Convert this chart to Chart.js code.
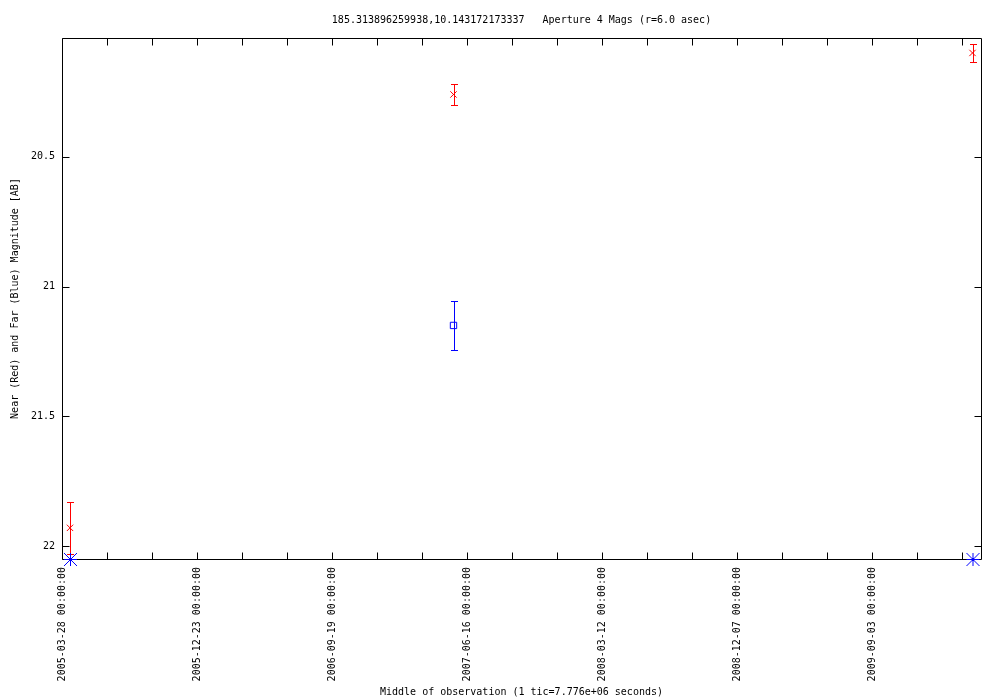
<!DOCTYPE html>
<html><head><meta charset="utf-8">
<script src="https://cdn.jsdelivr.net/npm/chart.js@4/dist/chart.umd.min.js"></script>
<style>html,body{margin:0;padding:0;background:#fff}#wrap{width:1000px;height:700px}</style>
</head><body><div id="wrap"><canvas id="c" width="1000" height="700"></canvas></div>
<script>
const chartTitle = '185.313896259938,10.143172173337   Aperture 4 Mags (r=6.0 asec)';
const xAxisTitle = 'Middle of observation (1 tic=7.776e+06 seconds)';
const yAxisTitle = 'Near (Red) and Far (Blue) Magnitude [AB]';
const obsDates = ['2005-04-13', '2007-05-20', '2010-03-23'];
const nearMag = [21.93, 20.26, 20.10];
const nearErr = [0.10, 0.04, 0.035];
const farMag = [22.05, 21.15, 22.05];
const farErr = [null, 0.095, null];
const farStyle = ['star', 'rect', 'star'];
const xTickLabels = ['2005-03-28','2005-12-23','2006-09-19','2007-06-16','2008-03-12','2008-12-07','2009-09-03'];
const xRange = ['2005-03-28', '2010-04-09'];
const yTicks = [20.5, 21, 21.5, 22];
const yRange = [20.0424, 22.05];
const minorTicDays = 90;

const DAY = 86400000;
const toMs = s => Date.parse(s + 'T00:00:00Z');
const fmtDate = v => new Date(v).toISOString().slice(0, 10) + ' 00:00:00';
const FONT = {family: '"DejaVu Sans Mono", "Liberation Mono", monospace', size: 10, weight: 'normal'};
Chart.defaults.color = '#000';

const xMin = toMs(xRange[0]), xMax = toMs(xRange[1]);
const xLabelVals = xTickLabels.map(toMs);

// gnuplot-like '*' marker (plus + square-cornered cross), crisp pixels
function starImage(color) {
  const c = document.createElement('canvas');
  c.width = 16; c.height = 16;
  const g = c.getContext('2d');
  g.strokeStyle = color; g.lineWidth = 1;
  g.beginPath();
  g.moveTo(2, 8.5); g.lineTo(15, 8.5);
  g.moveTo(8.5, 2); g.lineTo(8.5, 15);
  g.moveTo(2, 2); g.lineTo(15, 15);
  g.moveTo(15, 2); g.lineTo(2, 15);
  g.stroke();
  return c;
}
const blueStar = starImage('#0000ff');

const frame = {
  id: 'frame',
  beforeDatasetsDraw(chart) {
    const {ctx, chartArea: a, scales: {x, y}} = chart;
    const L = Math.round(a.left) + 0.5, R = Math.round(a.right) + 0.5;
    const T = Math.round(a.top) + 0.5, B = Math.round(a.bottom) + 0.5;
    ctx.save();
    ctx.strokeStyle = '#000';
    ctx.lineWidth = 1;
    ctx.beginPath();
    ctx.rect(L, T, R - L, B - T);
    for (let v = xLabelVals[0]; v <= xMax; v += minorTicDays * DAY) {
      const px = Math.round(x.getPixelForValue(v)) + 0.5;
      ctx.moveTo(px, B); ctx.lineTo(px, B - 7);
      ctx.moveTo(px, T); ctx.lineTo(px, T + 7);
    }
    yTicks.forEach(v => {
      const py = Math.round(y.getPixelForValue(v)) + 0.5;
      ctx.moveTo(L, py); ctx.lineTo(L + 7, py);
      ctx.moveTo(R, py); ctx.lineTo(R - 7, py);
    });
    ctx.stroke();
    ctx.restore();
  }
};

const errBars = {
  id: 'errBars',
  beforeDatasetsDraw(chart) {
    const {ctx, chartArea: a, scales: {x, y}} = chart;
    ctx.save();
    ctx.beginPath();
    ctx.rect(a.left, a.top, a.right - a.left, a.bottom - a.top + 1);
    ctx.clip();
    ctx.lineWidth = 1;
    chart.data.datasets.forEach(ds => {
      if (!ds.errs) return;
      ctx.strokeStyle = ds.borderColor;
      ds.data.forEach((p, i) => {
        const e = ds.errs[i];
        if (e == null) return;
        const px = Math.round(x.getPixelForValue(p.x)) + 0.5;
        const y1 = Math.round(y.getPixelForValue(p.y - e)) + 0.5;
        const y2 = Math.round(y.getPixelForValue(p.y + e)) + 0.5;
        ctx.beginPath();
        ctx.moveTo(px, y1); ctx.lineTo(px, y2);
        ctx.moveTo(px - 3.5, y1); ctx.lineTo(px + 3.5, y1);
        ctx.moveTo(px - 3.5, y2); ctx.lineTo(px + 3.5, y2);
        ctx.stroke();
      });
    });
    ctx.restore();
  }
};

new Chart(document.getElementById('c'), {
  type: 'scatter',
  data: {
    datasets: [
      {
        label: 'Near',
        data: obsDates.map((d, i) => ({x: toMs(d), y: nearMag[i]})),
        errs: nearErr,
        pointStyle: 'crossRot', pointRadius: 4.5,
        borderColor: '#ff0000', backgroundColor: 'rgba(0,0,0,0)', borderWidth: 1,
        showLine: false, clip: false
      },
      {
        label: 'Far',
        data: obsDates.map((d, i) => ({x: toMs(d), y: farMag[i]})),
        errs: farErr,
        pointStyle: farStyle.map(s => s === 'star' ? blueStar : 'rect'), pointRadius: 4.5,
        borderColor: '#0000ff', backgroundColor: 'rgba(0,0,0,0)', borderWidth: 1,
        showLine: false, clip: false
      }
    ]
  },
  options: {
    responsive: false, animation: false, devicePixelRatio: 1,
    layout: {padding: {left: 0, right: 19, top: 0, bottom: 0}},
    plugins: {
      legend: {display: false},
      tooltip: {enabled: false},
      title: {display: true, text: chartTitle, fullSize: false, font: FONT, color: '#000',
              padding: {top: 14, bottom: 12}}
    },
    scales: {
      x: {
        type: 'linear', position: 'bottom', min: xMin, max: xMax,
        grid: {display: false, drawTicks: false}, border: {display: false},
        afterBuildTicks: s => { s.ticks = xLabelVals.map(v => ({value: v})); },
        afterFit: s => { s.height = 141; },
        ticks: {autoSkip: false, maxRotation: 90, minRotation: 90, padding: 8, font: FONT, color: '#000',
                callback: v => fmtDate(v)},
        title: {display: true, text: xAxisTitle, font: FONT, color: '#000', padding: {top: 0, bottom: 2}}
      },
      y: {
        type: 'linear', position: 'left', reverse: true, min: yRange[0], max: yRange[1],
        grid: {display: false, drawTicks: false}, border: {display: false},
        afterBuildTicks: s => { s.ticks = yTicks.map(v => ({value: v})); },
        afterFit: s => { s.width = 62; },
        ticks: {padding: 7, font: FONT, color: '#000', callback: v => String(v)},
        title: {display: true, text: yAxisTitle, font: FONT, color: '#000', padding: {top: 9, bottom: 0}}
      }
    }
  },
  plugins: [frame, errBars]
});
</script>
</body></html>
